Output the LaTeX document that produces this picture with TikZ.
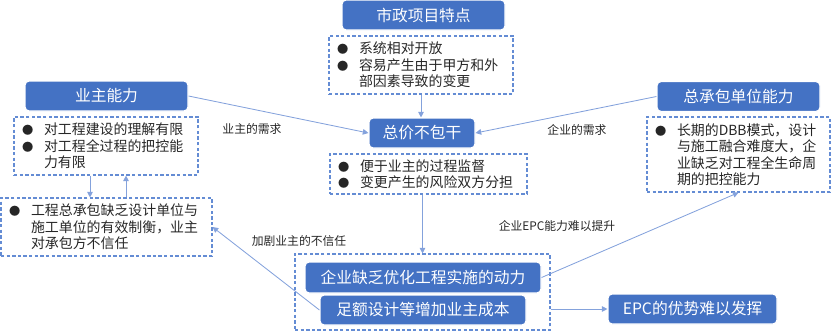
\documentclass[tikz,border=0pt]{standalone}
\usepackage{fontspec}
\setmainfont{Noto Sans CJK SC}
\usepackage{tikz}
\usetikzlibrary{arrows.meta, calc}
\usepackage{xcolor}
\definecolor{boxBlue}{RGB}{68, 114, 196}
\definecolor{lineBlue}{RGB}{100, 140, 212}
\definecolor{arrowBlue}{RGB}{132, 162, 220}

\newcommand{\bul}{\makebox[0.55cm][l]{\fontsize{8}{8}\selectfont ●}}
\newcommand{\gap}{\hspace*{0.55cm}}

\begin{document}
\begin{tikzpicture}[>={Triangle[length=4pt, width=4pt]}, font=\fontsize{9.9}{11.7}\selectfont,
  titlebox/.style={fill=boxBlue, draw=white, line width=0.8pt, rounded corners=3pt, text=white,
    font=\fontsize{11.2}{13}\selectfont, minimum height=0.75cm, inner sep=0pt},
  notebox/.style={draw=lineBlue, line width=0.8pt, dash pattern=on 2.4pt off 1.6pt, align=left,
    text=black!85, inner xsep=0.2cm, inner ysep=0pt},
  link/.style={->, arrowBlue, line width=0.6pt},
  linklabel/.style={font=\fontsize{8.4}{10}\selectfont, text=black!85}]
  \useasboundingbox (0, 0) rectangle (20.8, -8.3);

  % project features
  \node[titlebox, minimum width=4.075cm] (spec) at (10.5875, -0.375) {市政项目特点};
  \node[notebox, text width=4.2cm, minimum height=1.45cm] (specnote) at (10.525, -1.625)
    {\bul 系统相对开放\\ \bul 容易产生由于甲方和外\\ \gap 部因素导致的变更};

  % contract type
  \node[titlebox, minimum width=2.65cm] (price) at (10.55, -3.325) {总价不包干};
  \node[notebox, text width=4.525cm, minimum height=1.0cm] (pricenote) at (10.7125, -4.35)
    {\bul 便于业主的过程监督\\ \bul 变更产生的风险双方分担};

  % owner side
  \node[titlebox, minimum width=4.075cm] (owner) at (2.6625, -2.4) {业主能力};
  \node[notebox, text width=4.2cm, minimum height=1.45cm] (ownernote) at (2.65, -3.65)
    {\bul 对工程建设的理解有限\\ \bul 对工程全过程的把控能\\ \gap 力有限};
  \node[notebox, text width=4.875cm, minimum height=1.45cm] (distrust) at (2.6625, -5.675)
    {\bul 工程总承包缺乏设计单位与\\ \gap 施工单位的有效制衡，业主\\ \gap 对承包方不信任};

  % contractor side
  \node[titlebox, minimum width=4.075cm] (contractor) at (18.4625, -2.4125) {总承包单位能力};
  \node[notebox, text width=4.175cm, minimum height=1.875cm] (contrnote) at (18.4625, -3.8625)
    {\bul 长期的DBB模式，设计\\ \gap 与施工融合难度大，企\\ \gap 业缺乏对工程全生命周\\ \gap 期的把控能力};

  % consequences
  \node[notebox, minimum width=6.375cm, minimum height=1.9cm] (group) at (10.5625, -7.3) {};
  \node[titlebox, minimum width=5.9cm, minimum height=0.775cm] (motive) at (10.575, -6.9375) {企业缺乏优化工程实施的动力};
  \node[titlebox, minimum width=5.15cm] (cost) at (10.575, -7.75) {足额设计等增加业主成本};
  \node[titlebox, minimum width=4.225cm] (epc) at (17.3125, -7.725) {EPC的优势难以发挥};

  % connectors
  \draw[link] (specnote.south) -- (specnote.south |- price.north);
  \draw[link] (owner.east) -- (price.west);
  \draw[link] (contractor.west) -- (price.east);
  \draw[link] (group.north |- pricenote.south) -- (group.north);
  \draw[link] ([xshift=-0.4cm]ownernote.south) -- ([xshift=-0.4cm]ownernote.south |- distrust.north);
  \draw[link] ([xshift=0.5cm]ownernote.south |- distrust.north) -- ([xshift=0.5cm]ownernote.south);
  \draw[link] (cost.west) -- (distrust.east);
  \draw[link] (motive.east) -- (contrnote.south);
  \draw[link] (group.east |- epc.west) -- (epc.west);

  % connector labels
  \node[linklabel] (ownerneed) at (6.3, -3.225) {业主的需求};
  \node[linklabel] (firmneed) at (14.425, -3.25) {企业的需求};
  \node[linklabel] (distrustlbl) at (7.475, -6.025) {加剧业主的不信任};
  \node[linklabel] (epclbl) at (13.925, -5.65) {企业EPC能力难以提升};
\end{tikzpicture}
\end{document}
